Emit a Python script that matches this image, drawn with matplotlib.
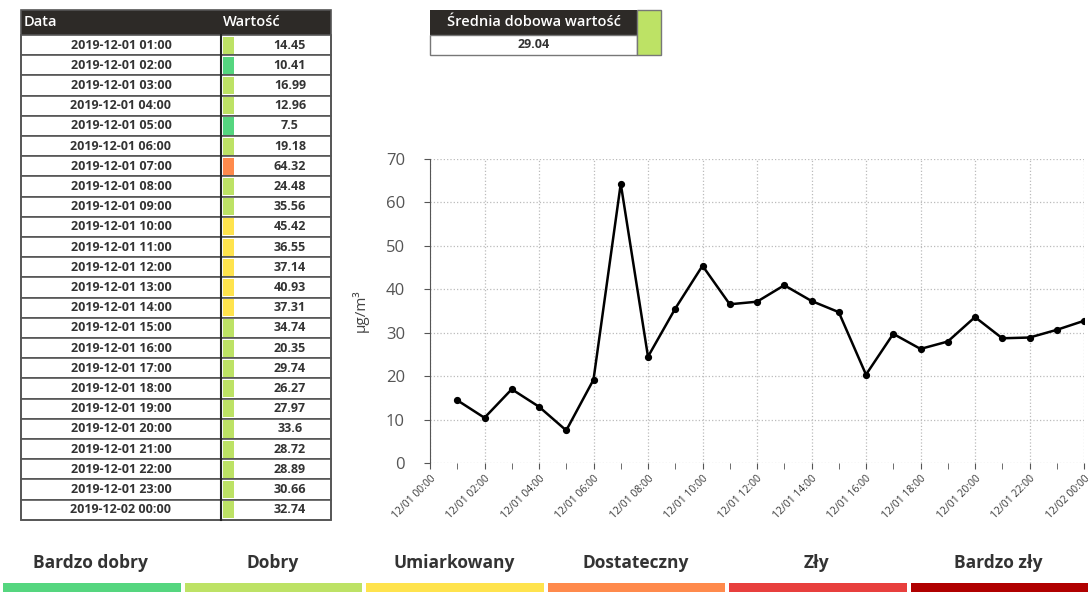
import matplotlib
matplotlib.use('Agg')

import matplotlib.pyplot as plt
from matplotlib.patches import Rectangle
from matplotlib.ticker import MultipleLocator, FuncFormatter

plt.rcParams['font.family'] = ['Open Sans', 'DejaVu Sans']

# data
hours = list(range(1, 25))
dates = ['2019-12-01 %02d:00' % h for h in range(1, 24)] + ['2019-12-02 00:00']
values = [14.45, 10.41, 16.99, 12.96, 7.5, 19.18, 64.32, 24.48, 35.56, 45.42,
          36.55, 37.14, 40.93, 37.31, 34.74, 20.35, 29.74, 26.27, 27.97, 33.6,
          28.72, 28.89, 30.66, 32.74]
daily_mean = 29.04

levels = ['Bardzo dobry', 'Dobry', 'Umiarkowany', 'Dostateczny', 'Zły', 'Bardzo zły']
level_colors = ['#55d67f', '#bde265', '#ffe34d', '#ff8a4c', '#e83f3d', '#b00000']
level_limits = [12, 36, 60, 84, 120]


def level_color(v):
    for lim, c in zip(level_limits, level_colors):
        if v <= lim:
            return c
    return level_colors[-1]


W, H = 1089, 592
fig = plt.figure(figsize=(W / 100, H / 100), dpi=100)

# overlay in pixel coordinates for table / boxes / legend
ov = fig.add_axes([0, 0, 1, 1])
ov.set_xlim(0, W)
ov.set_ylim(H, 0)
ov.axis('off')

dark = '#2d2a27'
txt = '#333333'
line = '#555555'

# --- hourly table
tx0, tx1, tdiv = 21, 331, 221
ty0, hh, rh = 10, 25, 20.2
ov.add_patch(Rectangle((tx0, ty0), tx1 - tx0, hh, color=dark, lw=0))
ov.text(tx0 + 3, ty0 + hh / 2, 'Data', color='white', fontsize=10.5, fontweight='semibold', va='center')
ov.text(tdiv + 2, ty0 + hh / 2, 'Wartość', color='white', fontsize=10.5, fontweight='semibold', va='center')
for i, (d, v) in enumerate(zip(dates, values)):
    y = ty0 + hh + i * rh
    ov.add_patch(Rectangle((tx0, y), tx1 - tx0, rh, facecolor='white', edgecolor=line, lw=1.2))
    ov.add_patch(Rectangle((tdiv + 1.5, y + 1.5), 11, rh - 3, color=level_color(v), lw=0))
    ov.text((tx0 + tdiv) / 2, y + rh / 2, d, color=txt, fontsize=9, fontweight='bold', ha='center', va='center')
    ov.text(290, y + rh / 2, str(v), color=txt, fontsize=9, fontweight='bold', ha='center', va='center')
tbot = ty0 + hh + len(values) * rh
ov.plot([tdiv, tdiv], [ty0 + hh, tbot], color='#222222', lw=1.5)
ov.add_patch(Rectangle((tx0, ty0), tx1 - tx0, tbot - ty0, fill=False, edgecolor=line, lw=1.2))

# --- daily mean box
bx0, bx1, bsw = 430, 661, 637
ov.add_patch(Rectangle((bx0, 10), bsw - bx0, 25, color=dark, lw=0))
ov.add_patch(Rectangle((bx0, 35), bsw - bx0, 20, facecolor='white', edgecolor='#777777', lw=1))
ov.add_patch(Rectangle((bsw, 10), bx1 - bsw, 45, facecolor=level_color(daily_mean), edgecolor='#777777', lw=1))
ov.text((bx0 + bsw) / 2, 22.5, 'Średnia dobowa wartość', color='white', fontsize=10.5, fontweight='semibold',
        ha='center', va='center')
ov.text((bx0 + bsw) / 2, 45, str(daily_mean), color=txt, fontsize=9, fontweight='bold', ha='center', va='center')

# --- legend bar
seg = W / len(levels)
for i, (name, c) in enumerate(zip(levels, level_colors)):
    ov.add_patch(Rectangle((i * seg + 3, 583), seg - 4, 10, color=c, lw=0))
    ov.text(i * seg + seg / 2, 563, name, color=txt, fontsize=12.5, fontweight='bold', ha='center', va='center')

# --- chart
ax = fig.add_axes([430 / W, (H - 463) / H, (1084 - 430) / W, (463 - 159) / H])
ax.plot(hours, values, color='black', lw=1.8, marker='o', ms=4.2)
ax.set_xlim(0, 24)
ax.set_ylim(0, 70)
ax.xaxis.set_major_locator(MultipleLocator(2))
ax.xaxis.set_minor_locator(MultipleLocator(1))
ax.yaxis.set_major_locator(MultipleLocator(10))


def fmt_hour(x, pos):
    h = int(round(x))
    return '12/%02d %02d:00' % (1 + h // 24, h % 24)


ax.xaxis.set_major_formatter(FuncFormatter(fmt_hour))
ax.grid(True, color='#bbbbbb', ls=':', lw=0.9)
for s in ['top', 'right', 'bottom']:
    ax.spines[s].set_visible(False)
ax.spines['left'].set_color('#555555')
ax.tick_params(axis='x', which='both', color='#555555', length=4, labelsize=7.5, labelcolor='#3a3a3a')
ax.tick_params(axis='y', length=4, color='#555555', labelsize=12, labelcolor='#555555', pad=14)
plt.setp(ax.get_xticklabels(), rotation=45, ha='right', rotation_mode='anchor')
ax.set_ylabel('μg/m³', fontsize=11, color='#444444', labelpad=12)
ax.set_zorder(2)

fig.savefig('out.png', dpi=100)
